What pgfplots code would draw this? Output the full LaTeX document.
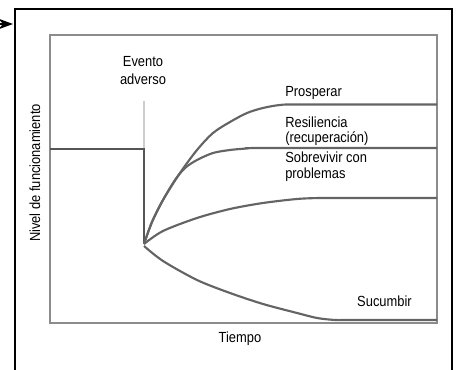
\documentclass[border=0pt]{standalone}
\usepackage{pgfplots}
\pgfplotsset{compat=1.18}
\usepackage{fontspec}
\setmainfont{Liberation Sans}[FakeStretch=0.88]
\usetikzlibrary{arrows.meta}

\definecolor{curva}{RGB}{100,100,100}
\definecolor{marco}{RGB}{140,140,140}
\definecolor{base}{RGB}{85,85,85}
\definecolor{evento}{RGB}{205,205,205}

\begin{document}
\begin{tikzpicture}[font=\fontsize{11}{13}\selectfont]
\begin{axis}[
    x=0.75pt, y=0.75pt,
    xmin=0, xmax=387,
    ymin=0, ymax=288,
    axis lines=box,
    axis line style={marco, line width=1.5pt},
    xtick=\empty, ytick=\empty,
    clip=false,
]
% linea del evento adverso
\addplot[evento, line width=1.2pt] coordinates {(94,174) (94,222)};

% nivel inicial y caida
\addplot[base, line width=2pt] coordinates {(0,174) (94,174) (94,79)};

% Prosperar
\addplot[curva, line width=1.6pt, smooth] coordinates {
    (94,79) (102,101) (113,123) (130,150) (147,173) (163,190)
    (180,201) (197,210) (213,215) (230,218) (250,218.5) (387,218.5)
};
% Resiliencia
\addplot[curva, line width=1.6pt, smooth] coordinates {
    (94,79) (102,101) (113,123) (125,143) (135,155) (147,163)
    (163,170) (180,173) (197,174.5) (215,175) (387,175)
};
% Sobrevivir con problemas
\addplot[curva, line width=1.6pt, smooth] coordinates {
    (94,79) (113,92) (147,105) (180,114) (213,120) (247,124)
    (270,125) (290,125) (387,125)
};
% Sucumbir
\addplot[curva, line width=1.6pt, smooth] coordinates {
    (94,77) (113,62) (147,43) (180,30) (213,19) (247,10)
    (267,5) (285,3) (300,3) (387,3)
};

\node[anchor=base, inner sep=0] at (axis cs:93,256) {Evento};
\node[anchor=base, inner sep=0] at (axis cs:93,238) {adverso};
\node[anchor=base west, inner sep=0] at (axis cs:235,226) {Prosperar};
\node[anchor=base west, inner sep=0] at (axis cs:235,195) {Resiliencia};
\node[anchor=base west, inner sep=0] at (axis cs:235,180) {(recuperación)};
\node[anchor=base west, inner sep=0] at (axis cs:235,160) {Sobrevivir con};
\node[anchor=base west, inner sep=0] at (axis cs:235,144) {problemas};
\node[anchor=base east, inner sep=0] at (axis cs:362,16) {Sucumbir};
\node[anchor=base, inner sep=0] at (axis cs:190,-20) {Tiempo};
\node[rotate=90, inner sep=0] at (axis cs:-15,150) {Nivel de funcionamiento};

% marco exterior y flecha
\draw[black, line width=1.6pt] (axis cs:-35,-60) -- (axis cs:-35,314)
    -- (axis cs:402,314) -- (axis cs:402,-60);
\draw[black, line width=1.5pt, -{Stealth[length=11pt,width=8pt]}]
    (axis cs:-52,299) -- (axis cs:-37,299);

\coordinate (bl) at (axis cs:-50,-47);
\coordinate (tr) at (axis cs:411,323);
\end{axis}
\pgfresetboundingbox
\path[use as bounding box] (bl) rectangle (tr);
\end{tikzpicture}
\end{document}
